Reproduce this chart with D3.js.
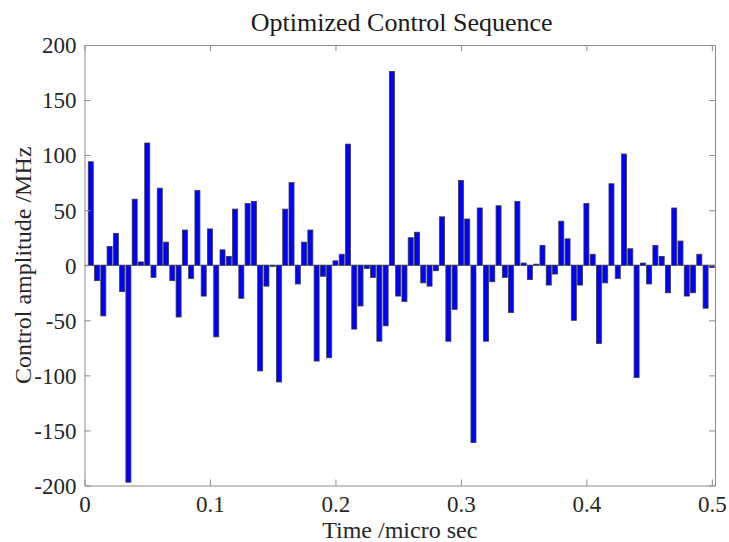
<!DOCTYPE html>
<html><head><meta charset="utf-8">
<script src="https://cdn.jsdelivr.net/npm/d3@7"></script>
<style>body{margin:0;background:#fff}svg{display:block}</style>
</head><body><svg id="c" width="729" height="542"></svg>
<script>
const title = "Optimized Control Sequence";
const xLabel = "Time /micro sec";
const yLabel = "Control amplitude /MHz";
const timeStep = 0.005;
const values = [
  94, -14, -46, 17, 29, -24, -197, 60, 3, 111,
  -11, 70, 21, -14, -47, 32, -12, 68, -28, 33,
  -65, 14, 8, 51, -30, 56, 58, -96, -19, -1,
  -106, 51, 75, -17, 21, 32, -87, -10, -84, 4,
  10, 110, -58, -37, -3, -11, -69, -55, 176, -28,
  -33, 25, 30, -16, -19, -5, 44, -69, -40, 77,
  42, -161, 52, -69, -15, 54, -11, -43, 58, 2,
  -13, 1, 18, -18, -8, 40, 24, -50, -18, 56,
  10, -71, -16, 74, -12, 101, 15, -102, 2, -17,
  18, 8, -25, 52, 22, -28, -25, 10, -39, -2
];
const times = values.map((v, i) => +((i + 1) * timeStep).toFixed(3));
const xTicks = [0, 0.1, 0.2, 0.3, 0.4, 0.5];
const yTicks = [-200, -150, -100, -50, 0, 50, 100, 150, 200];

const FONT = '"Liberation Serif", "Times New Roman", serif';
const svg = d3.select("#c");
const L = 84.5, R = 715, T = 45, B = 485.5;
const x = d3.scaleLinear().domain([0, 0.5025]).range([L, R]);
const y = d3.scaleLinear().domain([-200, 200]).range([B, T]);
const bw = x(timeStep * 0.8) - x(0);

svg.append("defs").append("clipPath").attr("id", "clip")
  .append("rect").attr("x", L).attr("y", T).attr("width", R - L).attr("height", B - T);

const g = svg.append("g").attr("clip-path", "url(#clip)");
g.append("line").attr("x1", L).attr("x2", R).attr("y1", y(0)).attr("y2", y(0))
  .attr("stroke", "#808080").attr("stroke-width", 1);
g.selectAll("rect.bar").data(values).join("rect").attr("class", "bar")
  .attr("x", (d, i) => x(times[i]) - bw / 2)
  .attr("width", bw)
  .attr("y", d => y(Math.max(0, d)))
  .attr("height", d => Math.abs(y(d) - y(0)))
  .attr("fill", "#0000ff").attr("stroke", "#3a3a3a").attr("stroke-width", 0.8);

const frame = "#8c8c8c";
const tickLen = 6;
const fmtY = d => String(d);
const fmtX = d => d === 0 ? "0" : d3.format(".1f")(d);
const axB = svg.append("g").attr("transform", `translate(0,${B})`)
  .call(d3.axisBottom(x).tickValues(xTicks).tickSizeInner(-tickLen).tickSizeOuter(0).tickPadding(10).tickFormat(fmtX));
const axT = svg.append("g").attr("transform", `translate(0,${T})`)
  .call(d3.axisTop(x).tickValues(xTicks).tickSizeInner(-tickLen).tickSizeOuter(0).tickFormat(""));
const axL = svg.append("g").attr("transform", `translate(${L},0)`)
  .call(d3.axisLeft(y).tickValues(yTicks).tickSizeInner(-tickLen).tickSizeOuter(0).tickPadding(8).tickFormat(fmtY));
const axR = svg.append("g").attr("transform", `translate(${R},0)`)
  .call(d3.axisRight(y).tickValues(yTicks).tickSizeInner(-tickLen).tickSizeOuter(0).tickFormat(""));
[axB, axT, axL, axR].forEach(a => {
  a.attr("font-family", null).attr("font-size", null);
  a.select(".domain").attr("stroke", frame);
  a.selectAll(".tick line").attr("stroke", frame);
  a.selectAll("text").style("font-family", FONT).style("font-size", "23px").attr("fill", "#262626");
});
axB.selectAll("text").attr("dy", "0.71em");
axL.selectAll("text").attr("dy", "0.34em");

svg.append("text").attr("x", (L + R) / 2 + 2).attr("y", 31).attr("text-anchor", "middle")
  .style("font-family", FONT).style("font-size", "26px").attr("fill", "#1a1a1a").text(title);
svg.append("text").attr("x", (L + R) / 2).attr("y", 538).attr("text-anchor", "middle")
  .style("font-family", FONT).style("font-size", "24px").attr("fill", "#262626").text(xLabel);
svg.append("text").attr("transform", `translate(31,${(T + B) / 2}) rotate(-90)`).attr("text-anchor", "middle")
  .style("font-family", FONT).style("font-size", "24px").attr("fill", "#262626").text(yLabel);
</script></body></html>
